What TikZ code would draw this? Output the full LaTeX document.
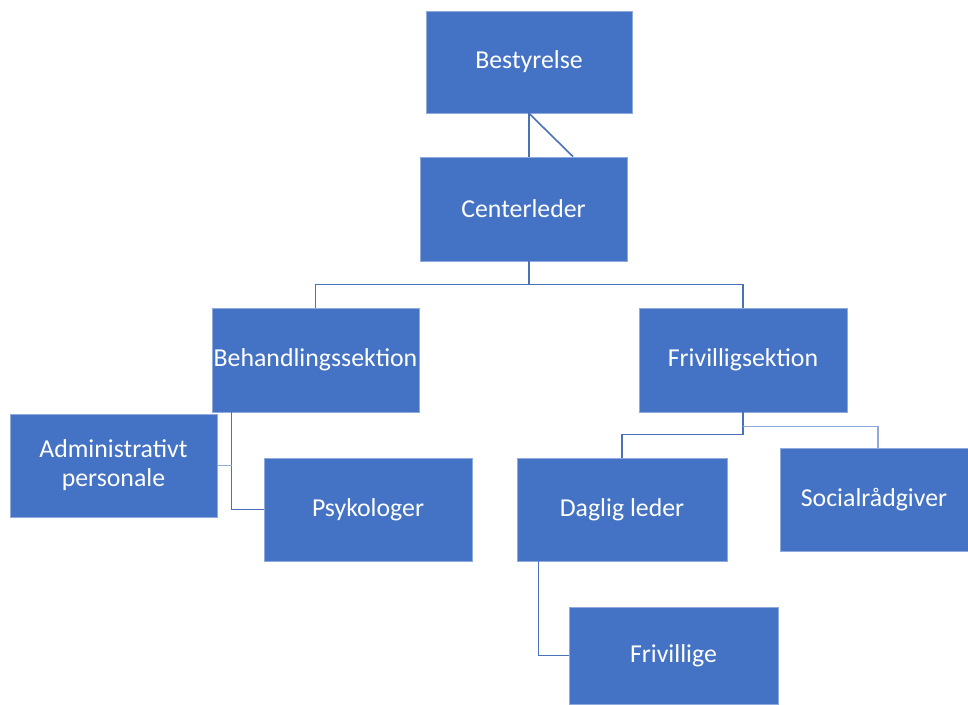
\documentclass[tikz,border=0pt]{standalone}
\usepackage{fontspec}
\setmainfont{Carlito}
\usetikzlibrary{calc}
\definecolor{boxblue}{HTML}{4472C4}
\definecolor{boxedge}{HTML}{8FAADC}
\definecolor{linkblue}{HTML}{4A72B8}
\definecolor{linklight}{HTML}{8EAADB}
\begin{document}
\begin{tikzpicture}[x=1pt,y=-1pt,
  orgbox/.style={fill=boxblue,draw=boxedge,line width=0.8pt,text=white,
    font=\fontsize{25.8}{29}\selectfont,align=center,inner sep=0pt},
  link/.style={draw=linkblue,line width=1.6pt},
  linklt/.style={draw=linklight,line width=1.6pt}]
\useasboundingbox (0,0) rectangle (968,704);
\fill[white] (0,0) rectangle (968,704);
\node[orgbox,minimum width=206pt,minimum height=102pt] (bes) at (529,62) {Bestyrelse};
\node[orgbox,minimum width=207pt,minimum height=104pt] (cen) at (523.5,209) {Centerleder};
\node[orgbox,minimum width=207pt,minimum height=104pt] (beh) at (315.5,360) {Behandlingssektion};
\node[orgbox,minimum width=208pt,minimum height=104pt] (fri) at (743,360) {Frivilligsektion};
\node[orgbox,minimum width=207pt,minimum height=103pt] (adm) at (113.5,465.5) {Administrativt\\personale};
\node[orgbox,minimum width=208pt,minimum height=103pt] (psy) at (368,509.5) {Psykologer};
\node[orgbox,minimum width=210pt,minimum height=103pt] (dag) at (622,509.5) {Daglig leder};
\node[orgbox,minimum width=188pt,minimum height=103pt] (soc) at (874,499.5) {Socialrådgiver};
\node[orgbox,minimum width=209pt,minimum height=97pt] (frv) at (673.5,655.5) {Frivillige};
% Bestyrelse - Centerleder
\coordinate (bdiag) at ($(bes.south)+(44,0)$);
\draw[link] (bes.south) -- (bes.south |- cen.north);
\draw[link] (bes.south) -- (bdiag |- cen.north);
% Centerleder - sections
\coordinate (cdrop) at ($(cen.south)+(5.5,0)$);
\draw[link] (cdrop) -- ($(cdrop)+(0,23)$) coordinate (cbar) -| (beh.north);
\draw[link] (cbar) -| (fri.north);
% Behandlingssektion
\coordinate (bl) at ($(beh.south west)+(20,0)$);
\draw[link] (bl) |- (psy.west);
\draw[linklt] (adm.east) -- (adm.east -| bl);
% Frivilligsektion
\draw[link] (fri.south) -- ($(fri.south)+(0,22)$) coordinate (fbar) -| (dag.north);
\coordinate (sctop) at ($(soc.north)+(4,0)$);
\draw[linklt] ($(fri.south)+(0,14)$) -| (sctop);
% Daglig leder - Frivillige
\coordinate (dl) at ($(dag.south west)+(22,0)$);
\draw[link] (dl) |- (frv.west);
\end{tikzpicture}
\end{document}
